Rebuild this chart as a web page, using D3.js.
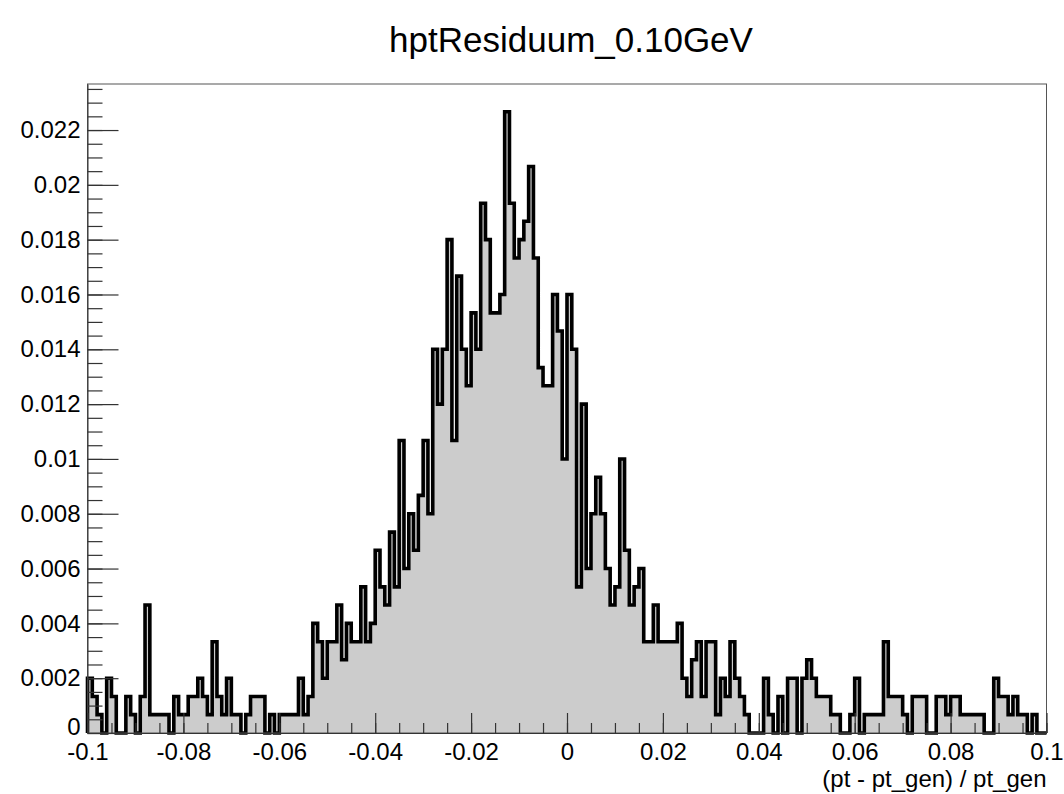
<!DOCTYPE html>
<html>
<head>
<meta charset="utf-8">
<script src="https://cdn.jsdelivr.net/npm/d3@7"></script>
<style>
  body { margin: 0; background: #fff; }
  text { font-family: "Liberation Sans", Arial, Helvetica, sans-serif; fill: #000; }
</style>
</head>
<body>
<div id="chart"></div>
<script>
const title = "hptResiduum_0.10GeV";
const xTitle = "(pt - pt_gen) / pt_gen";

// histogram: 200 bins from -0.1 to 0.1, normalised contents
const xRange = [-0.1, 0.1];
const nBins = 200;
const binContent = [
  0.002, 0.00133, 0.00067, 0, 0.002, 0.00133, 0, 0, 0.00133, 0.00067,
  0, 0.00133, 0.00467, 0.00067, 0.00067, 0.00067, 0.00067, 0, 0.00133, 0.00067,
  0.00067, 0.00133, 0.00133, 0.002, 0.00133, 0.00067, 0.00333, 0.00133, 0.00067, 0.002,
  0.00067, 0.00067, 0, 0.00067, 0.00133, 0.00133, 0.00133, 0, 0.00067, 0,
  0.00067, 0.00067, 0.00067, 0.00067, 0.002, 0.00067, 0.00133, 0.004, 0.00333, 0.002,
  0.00333, 0.00333, 0.00467, 0.00267, 0.004, 0.00333, 0.00333, 0.00533, 0.00333, 0.004,
  0.00667, 0.00533, 0.00467, 0.00733, 0.00533, 0.01067, 0.006, 0.008, 0.00667, 0.00867,
  0.01067, 0.008, 0.014, 0.012, 0.014, 0.018, 0.01067, 0.01667, 0.014, 0.01267,
  0.01533, 0.014, 0.01933, 0.018, 0.01533, 0.01533, 0.016, 0.02267, 0.01933, 0.01733,
  0.018, 0.01867, 0.02067, 0.01733, 0.01333, 0.01267, 0.01267, 0.016, 0.01467, 0.01,
  0.016, 0.014, 0.00533, 0.012, 0.006, 0.008, 0.00933, 0.008, 0.006, 0.00467,
  0.00533, 0.01, 0.00667, 0.00467, 0.00533, 0.006, 0.00333, 0.00333, 0.00467, 0.00333,
  0.00333, 0.00333, 0.00333, 0.004, 0.002, 0.00133, 0.00267, 0.00333, 0.00133, 0.00333,
  0.00333, 0.00067, 0.002, 0.00133, 0.00333, 0.002, 0.00133, 0.00067, 0, 0,
  0, 0.002, 0.00067, 0, 0.00133, 0, 0.002, 0.002, 0, 0.002,
  0.00267, 0.002, 0.00133, 0.00133, 0.00133, 0.00067, 0.00067, 0, 0, 0.00067,
  0.002, 0, 0.00067, 0.00067, 0.00067, 0.00067, 0.00333, 0.00133, 0.00133, 0.00133,
  0.00067, 0, 0.00133, 0.00133, 0.00133, 0, 0, 0.00133, 0.00133, 0.00067,
  0.00133, 0.00133, 0.00067, 0.00067, 0.00067, 0.00067, 0.00067, 0, 0, 0.002,
  0.00133, 0.00133, 0.00067, 0.00133, 0.00067, 0.00067, 0, 0.00067, 0, 0
];

const xTickValues = [-0.1, -0.08, -0.06, -0.04, -0.02, 0, 0.02, 0.04, 0.06, 0.08, 0.1];
const xTickLabels = ["-0.1", "-0.08", "-0.06", "-0.04", "-0.02", "0", "0.02", "0.04", "0.06", "0.08", "0.1"];
const yTickValues = [0, 0.002, 0.004, 0.006, 0.008, 0.01, 0.012, 0.014, 0.016, 0.018, 0.02, 0.022];
const yTickLabels = ["0", "0.002", "0.004", "0.006", "0.008", "0.01", "0.012", "0.014", "0.016", "0.018", "0.02", "0.022"];
const yMax = 0.02368;

const width = 1064;
const height = 794;
const frame = { left: 87.5, right: 1046.5, top: 84, bottom: 733 };

const svg = d3.select("#chart").append("svg")
    .attr("width", width)
    .attr("height", height);

const x = d3.scaleLinear().domain(xRange).range([frame.left, frame.right]);
const y = d3.scaleLinear().domain([0, yMax]).range([frame.bottom, frame.top]);

const binWidth = (xRange[1] - xRange[0]) / nBins;
const bins = binContent.map((v, i) => ({ low: xRange[0] + i * binWidth, v: v }));
// extra point closes the last bin at the upper edge
const steps = bins.concat([{ low: xRange[1], v: binContent[binContent.length - 1] }]);

// fill
svg.append("path")
    .datum(steps)
    .attr("fill", "#cccccc")
    .attr("d", d3.area()
        .curve(d3.curveStepAfter)
        .x(d => x(d.low))
        .y0(y(0))
        .y1(d => y(d.v)));

// outline, dropping to the baseline at both ends
const outline = [{ low: xRange[0], v: 0 }].concat(steps, [{ low: xRange[1], v: 0 }]);
svg.append("path")
    .datum(outline)
    .attr("fill", "none")
    .attr("stroke", "#000")
    .attr("stroke-width", 3.6)
    .attr("stroke-linejoin", "miter")
    .attr("d", d3.line()
        .curve(d3.curveStepAfter)
        .x(d => x(d.low))
        .y(d => y(d.v)));

// frame
svg.append("rect")
    .attr("x", frame.left)
    .attr("y", frame.top)
    .attr("width", frame.right - frame.left)
    .attr("height", frame.bottom - frame.top)
    .attr("fill", "none")
    .attr("stroke", "#555")
    .attr("stroke-width", 1);

// x axis, ticks pointing inside
const xMinor = d3.range(-0.1, 0.1001, 0.005);
svg.append("g")
    .attr("transform", `translate(0,${frame.bottom})`)
    .call(d3.axisBottom(x).tickValues(xMinor).tickSize(-10).tickSizeOuter(0).tickFormat(""))
    .call(g => g.select(".domain").remove());

const gx = svg.append("g")
    .attr("transform", `translate(0,${frame.bottom})`)
    .call(d3.axisBottom(x)
        .tickValues(xTickValues)
        .tickFormat((d, i) => xTickLabels[i])
        .tickSize(-20)
        .tickSizeOuter(0)
        .tickPadding(10));
gx.selectAll("text").style("font-size", "24px");

// y axis
const yMinor = d3.range(0, yMax, 0.0005);
svg.append("g")
    .attr("transform", `translate(${frame.left},0)`)
    .call(d3.axisLeft(y).tickValues(yMinor).tickSize(-15).tickSizeOuter(0).tickFormat(""))
    .call(g => g.select(".domain").remove());

const gy = svg.append("g")
    .attr("transform", `translate(${frame.left},0)`)
    .call(d3.axisLeft(y)
        .tickValues(yTickValues)
        .tickFormat((d, i) => yTickLabels[i])
        .tickSize(-31)
        .tickSizeOuter(0)
        .tickPadding(7));
gy.selectAll("text").style("font-size", "24px");
// the bottom "0" sits just above the x labels, as in the original
gy.selectAll("text").filter(d => d === 0).attr("dy", "0.05em");

svg.selectAll(".tick line").attr("stroke", "#333").attr("stroke-width", 1.2);
svg.selectAll(".domain").attr("stroke", "#333");

// titles
svg.append("text")
    .attr("x", 571)
    .attr("y", 52)
    .attr("text-anchor", "middle")
    .style("font-size", "35px")
    .text(title);

svg.append("text")
    .attr("x", frame.right)
    .attr("y", 787)
    .attr("text-anchor", "end")
    .style("font-size", "24px")
    .text(xTitle);
</script>
</body>
</html>
